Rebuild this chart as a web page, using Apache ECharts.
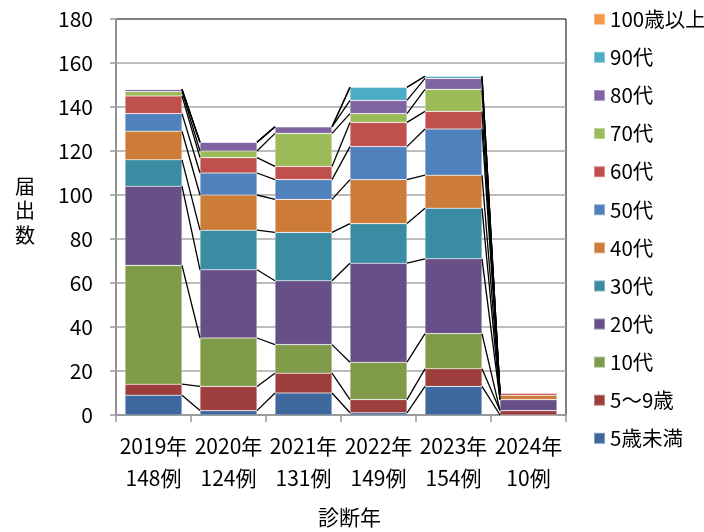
<!DOCTYPE html>
<html>
<head>
<meta charset="utf-8">
<script src="https://cdn.jsdelivr.net/npm/echarts@6/dist/echarts.min.js"></script>
<style>
html,body{margin:0;padding:0;background:#fff;}
#c{width:704px;height:532px;}
</style>
</head>
<body>
<div id="c"></div>
<script>
// ---- data ----
const years = ['2019年', '2020年', '2021年', '2022年', '2023年', '2024年'];
const totals = [148, 124, 131, 149, 154, 10];
const seriesNames = ['5歳未満', '5～9歳', '10代', '20代', '30代', '40代', '50代', '60代', '70代', '80代', '90代', '100歳以上'];
const under5    = [9, 2, 10, 1, 13, 0];
const age5to9   = [5, 11, 9, 6, 8, 2];
const teens     = [54, 22, 13, 17, 16, 0];
const twenties  = [36, 31, 29, 45, 34, 5];
const thirties  = [12, 18, 22, 18, 23, 0];
const forties   = [13, 16, 15, 20, 15, 2];
const fifties   = [8, 10, 9, 15, 21, 0];
const sixties   = [8, 7, 6, 11, 8, 1];
const seventies = [2, 3, 15, 4, 10, 0];
const eighties  = [1, 4, 3, 6, 5, 0];
const nineties  = [0, 0, 0, 6, 1, 0];
const over100   = [0, 0, 0, 0, 0, 0];
const yTicks = [0, 20, 40, 60, 80, 100, 120, 140, 160, 180];

const values = [under5, age5to9, teens, twenties, thirties, forties, fifties, sixties, seventies, eighties, nineties, over100];
const colors = ['#3F699E', '#9D3E3C', '#7F9A48', '#694F88', '#3B8CA2', '#CC7B38',
                '#4F81BD', '#C0504D', '#9BBB59', '#8064A2', '#4BACC6', '#F79646'];
const categories = years.map((y, i) => y + '\n' + totals[i] + '例');
const FONT = '"Noto Sans CJK JP", "Noto Sans", sans-serif';
const BAR_FRAC = 0.76;

// cumulative tops for series lines
const cum = [];
values.forEach((arr, s) => {
  cum.push(arr.map((v, i) => v + (s > 0 ? cum[s - 1][i] : 0)));
});
const lineData = [];
for (let s = 0; s < values.length; s++) {
  for (let i = 0; i < years.length - 1; i++) {
    lineData.push([i, cum[s][i], cum[s][i + 1]]);
  }
}

const barSeries = values.map((arr, s) => ({
  name: seriesNames[s],
  type: 'bar',
  stack: 'total',
  barWidth: (BAR_FRAC * 100) + '%',
  data: arr,
  itemStyle: { color: colors[s], borderColor: 'rgba(255,255,255,0.35)', borderWidth: 0.6 },
  emphasis: { disabled: true },
  animation: false
}));

const lineSeries = {
  type: 'custom',
  name: 'serieslines',
  data: lineData,
  encode: { x: 0, y: [1, 2] },
  z: 5,
  silent: true,
  animation: false,
  renderItem: function (params, api) {
    const i = api.value(0);
    const p1 = api.coord([i, api.value(1)]);
    const p2 = api.coord([i + 1, api.value(2)]);
    const bw = api.size([1, 0])[0] * BAR_FRAC / 2;
    return {
      type: 'line',
      shape: { x1: p1[0] + bw, y1: p1[1], x2: p2[0] - bw, y2: p2[1] },
      style: { stroke: '#000', lineWidth: 1.3 }
    };
  }
};

const chart = echarts.init(document.getElementById('c'), null, { renderer: 'canvas' });
chart.setOption({
  animation: false,
  backgroundColor: '#fff',
  textStyle: { fontFamily: FONT },
  grid: { left: 116, right: 138, top: 19, bottom: 117, show: true, borderColor: '#000', borderWidth: 1 },
  legend: {
    orient: 'vertical',
    left: 588,
    top: 4,
    itemWidth: 11,
    itemHeight: 11,
    itemGap: 17.6,
    icon: 'rect',
    data: seriesNames.slice().reverse(),
    textStyle: { fontFamily: FONT, fontSize: 20.5, lineHeight: 20, color: '#000' },
    selectedMode: false
  },
  xAxis: {
    type: 'category',
    data: categories,
    axisLine: { lineStyle: { color: '#999', width: 1.5 } },
    axisTick: { show: true, inside: false, length: 7, lineStyle: { color: '#999', width: 1.5 } },
    axisLabel: { color: '#000', fontFamily: FONT, fontSize: 21, lineHeight: 32, margin: 15, interval: 0 }
  },
  yAxis: {
    type: 'value',
    min: yTicks[0],
    max: yTicks[yTicks.length - 1],
    interval: yTicks[1] - yTicks[0],
    axisLine: { show: true, lineStyle: { color: '#999', width: 1.5 } },
    axisTick: { show: true, inside: false, length: 6, lineStyle: { color: '#999', width: 1.5 } },
    axisLabel: { color: '#000', fontFamily: FONT, fontSize: 21, margin: 23 },
    splitLine: { show: true, showMaxLine: false, lineStyle: { color: '#a6a6a6', width: 1.5 } }
  },
  graphic: [
    {
      type: 'text', left: 15, top: 174, silent: true,
      style: { text: '届\n出\n数', font: '20px ' + FONT, fill: '#000', lineHeight: 24.5, align: 'center' }
    },
    {
      type: 'text', left: 318, top: 507, silent: true,
      style: { text: '診断年', font: '21px ' + FONT, fill: '#000' }
    }
  ],
  series: barSeries.concat([lineSeries])
});
</script>
</body>
</html>
